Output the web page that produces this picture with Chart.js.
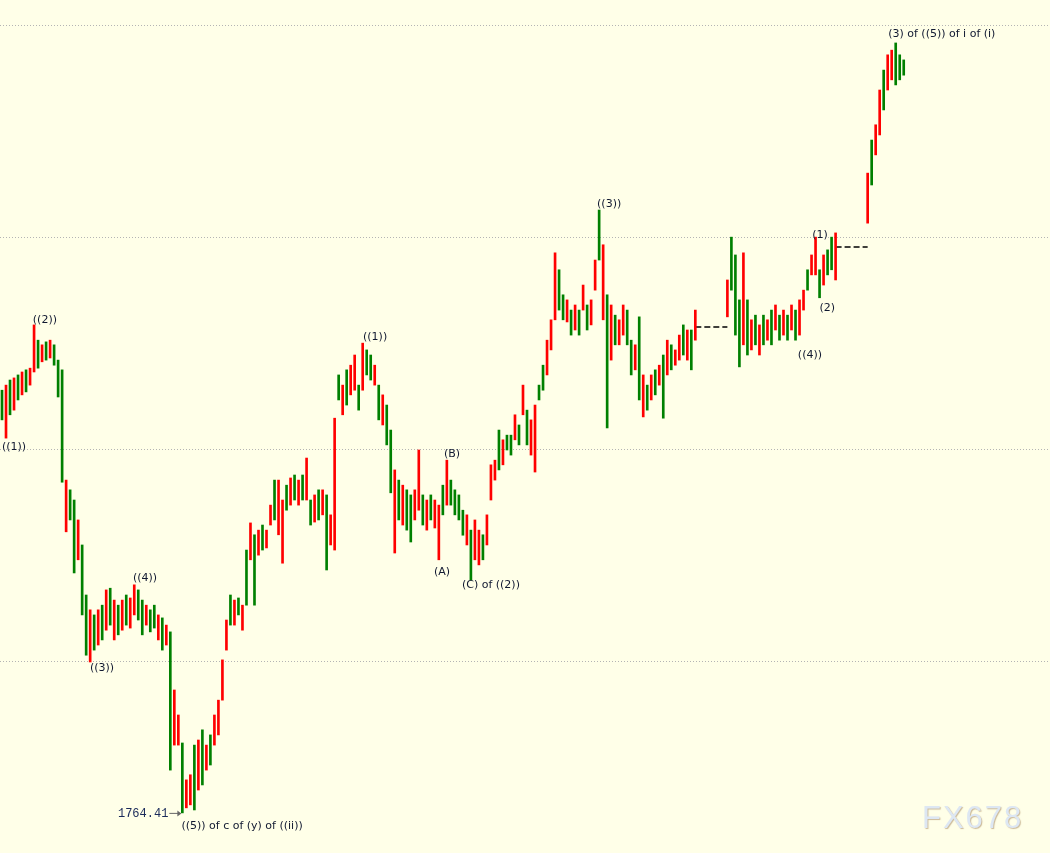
<!DOCTYPE html>
<html>
<head>
<meta charset="utf-8">
<title>Elliott wave count</title>
<script src="https://cdn.jsdelivr.net/npm/chart.js@4.4.1/dist/chart.umd.min.js"></script>
<style>
    html, body { margin: 0; padding: 0; background: #ffffe8; }
    #wrap { width: 1050px; height: 853px; }
</style>
</head>
<body>
<div id="wrap"><canvas id="waveChart"></canvas></div>
<script>
// ======================== Data ========================

// bar highs / lows, one entry per bar (null = no trading)
const highs = [
    1864.1,1865.3,1866.5,1867.0,1867.7,1868.4,1868.9,1869.3,1879.5,1875.9,
    1874.8,1875.5,1875.9,1874.8,1871.2,1868.9,1842.9,1840.6,1838.2,1833.5,
    1827.6,1815.8,1812.3,1811.1,1812.3,1813.4,1817.0,1817.4,1814.6,1813.4,
    1814.6,1815.8,1815.1,1818.2,1817.0,1814.6,1813.4,1812.3,1813.4,1811.1,
    1810.4,1808.7,1807.1,1793.4,1787.5,1780.9,1772.2,1773.4,1780.4,1781.6,
    1784.0,1780.4,1782.8,1787.5,1791.0,1800.5,1809.9,1815.8,1814.6,1815.1,
    1813.4,1826.4,1832.8,1830.0,1831.1,1832.3,1831.1,1837.0,1842.9,1842.9,
    1838.2,1841.7,1843.4,1844.1,1842.9,1844.1,1848.1,1838.2,1839.4,1840.6,
    1840.6,1839.4,1834.7,1857.5,1867.7,1865.3,1868.9,1870.0,1872.4,1865.3,
    1875.2,1873.6,1872.4,1870.0,1865.3,1863.0,1860.6,1854.7,1845.3,1842.9,
    1841.7,1840.6,1839.4,1840.6,1850.0,1839.4,1838.2,1839.4,1838.2,1837.0,
    1841.7,1847.6,1842.9,1840.6,1839.4,1835.8,1834.7,1831.1,1833.5,1831.1,
    1830.0,1834.7,1846.5,1847.6,1854.7,1852.4,1853.5,1853.5,1858.3,1855.9,
    1865.3,1859.4,1857.1,1860.6,1865.3,1870.0,1875.9,1880.7,1896.5,1892.5,
    1886.6,1885.4,1883.0,1884.2,1883.0,1888.9,1884.2,1885.4,1894.8,1906.6,
    1898.4,1886.6,1884.2,1881.8,1880.7,1884.2,1883.0,1875.9,1874.8,1881.4,
    1867.7,1865.3,1867.7,1868.9,1870.0,1872.4,1875.9,1874.8,1873.6,1877.1,
    1879.5,1878.3,1878.3,1883.0,null,null,null,null,null,null,
    null,1890.1,1900.2,1896.0,1885.4,1896.5,1885.4,1880.7,1881.8,1879.5,
    1881.8,1880.7,1883.0,1884.2,1881.8,1883.0,1881.8,1884.2,1883.0,1885.4,
    1887.7,1892.5,1896.0,1900.2,1892.5,1896.0,1897.2,1900.2,1901.2,null,
    null,null,null,null,null,null,1915.3,1923.1,1926.7,1934.9,
    1939.6,1943.2,1944.3,1946.0,1943.2,1942.0
];

const lows = [
    1857.1,1852.8,1858.3,1859.4,1861.8,1863.0,1863.7,1865.3,1868.4,1869.3,
    1870.8,1871.2,1871.7,1870.0,1862.5,1842.4,1830.7,1833.5,1821.0,1824.1,
    1811.1,1801.6,1800.0,1802.8,1804.0,1805.2,1807.5,1808.7,1805.2,1806.4,
    1807.5,1808.7,1808.0,1811.1,1809.9,1806.4,1808.7,1807.1,1808.0,1805.2,
    1802.8,1804.0,1774.5,1780.4,1780.4,1764.41,1765.6,1766.3,1765.1,1769.8,
    1771.0,1774.5,1775.7,1780.4,1782.8,1791.0,1802.8,1808.7,1808.7,1811.1,
    1807.5,1813.4,1824.1,1813.4,1825.2,1826.4,1826.9,1832.3,1833.5,1830.0,
    1823.3,1835.8,1837.0,1838.2,1837.0,1838.2,1838.2,1832.3,1833.0,1833.5,
    1834.7,1821.7,1827.6,1826.4,1861.8,1858.3,1860.6,1863.0,1864.1,1859.4,
    1864.1,1867.7,1866.5,1865.3,1857.1,1855.9,1851.2,1839.9,1825.7,1833.5,
    1832.3,1831.1,1828.3,1833.5,1835.8,1832.3,1831.1,1833.5,1831.6,1824.1,
    1834.7,1837.0,1837.0,1834.7,1833.5,1829.9,1827.6,1819.3,1824.1,1822.9,
    1824.1,1827.6,1838.2,1842.9,1845.3,1846.5,1850.0,1848.8,1852.4,1851.2,
    1858.3,1851.2,1848.8,1844.8,1861.8,1864.1,1867.7,1873.6,1880.7,1883.0,
    1880.7,1880.2,1877.1,1878.3,1877.1,1883.0,1878.3,1879.5,1887.7,1894.8,
    1880.7,1855.2,1871.2,1874.8,1874.8,1877.1,1874.8,1867.7,1868.9,1861.8,
    1857.8,1859.4,1861.8,1863.0,1865.3,1857.5,1867.7,1868.9,1870.0,1871.2,
    1872.4,1871.2,1868.9,1875.9,null,null,null,null,null,null,
    null,1881.4,1887.7,1877.1,1869.6,1874.8,1872.4,1873.6,1874.8,1872.4,
    1874.8,1875.9,1874.8,1878.3,1875.9,1877.1,1875.9,1878.3,1875.9,1877.1,
    1883.0,1887.7,1891.3,1891.3,1885.9,1888.9,1891.3,1892.5,1890.1,null,
    null,null,null,null,null,null,1903.5,1912.5,1919.6,1924.3,
    1930.2,1934.9,1937.3,1936.1,1937.3,1938.4
];

// G = green bar, R = red bar
const barDirs = [
    'GRGRGRGRRG', 'RGRGGGRGGR', 'GGRGRGRGRG', 'RGRRGGRGGR', 'GRGRRGRRGR',
    'GRGRRRRGRG', 'RGRGRGRRGR', 'RGRGRGRGRG', 'RGRRGRGRRG', 'RGGRGRGGRG',
    'RGGRRGRGRR', 'GRGGGGRGRR', 'GRRRGRGGRG', 'RGRRGGRRRG', 'GRGRGRGRRG',
    'RGRGRRGGRG', 'RGRGRGRGRR', 'GRGR------', '-RGGGRGRGR', 'GRGRGRGRGR',
    'RGRRGRGGR-', '------RGRR', 'GRRGGG'
].join('').split('');

const slotCount = 262;
const gridPrices = [1800, 1850, 1900, 1950];

// weekend gaps: dashed line at the last close
const gapStart = [173, 208];
const gapEnd = [181, 216];
const gapLevel = [1879.0, 1897.9];

// wave labels (bar slot, price at text centre)
const waveText = ['((1))', '((2))', '((3))', '((4))', '((5)) of c of (y) of ((ii))', '((1))', '(A)', '(B)',
    '(C) of ((2))', '((3))', '(1)', '(2)', '((4))', '(3) of ((5)) of i of (i)'];
const waveSlot = [3.0, 10.7, 24.95, 35.7, 59.9, 93.1, 109.8, 112.3, 122.0, 151.5, 204.1, 205.9, 201.6, 234.5];
const wavePrice = [1850.7, 1880.7, 1798.6, 1819.8, 1761.3, 1876.7, 1821.2, 1849.1, 1818.2, 1908.0, 1900.7, 1883.5, 1872.4, 1948.1];

// ======================== Chart ========================

const RED = '#ff0000';
const GREEN = '#008000';

function buildGapData(k) {
    const data = new Array(slotCount).fill(null);
    for (let i = gapStart[k]; i <= gapEnd[k]; i++) data[i] = gapLevel[k];
    return data;
}

const backgroundPlugin = {
    id: 'background',
    beforeDraw(chart) {
        const ctx = chart.ctx;
        ctx.save();
        ctx.fillStyle = '#ffffe8';
        ctx.fillRect(0, 0, chart.width, chart.height);
        ctx.restore();
    }
};

const labelPlugin = {
    id: 'waveLabels',
    afterDatasetsDraw(chart) {
        const ctx = chart.ctx;
        const x = chart.scales.x;
        const y = chart.scales.y;
        ctx.save();

        // wave labels
        ctx.font = '11px "DejaVu Sans", Verdana, sans-serif';
        ctx.fillStyle = '#101830';
        ctx.textAlign = 'center';
        ctx.textBaseline = 'middle';
        waveText.forEach((t, i) => {
            ctx.fillText(t, x.getPixelForValue(waveSlot[i]), y.getPixelForValue(wavePrice[i]));
        });

        // low price marker
        const lowValue = Math.min(...lows.filter(v => v !== null));
        const lowIdx = lows.indexOf(lowValue);
        const lx = x.getPixelForValue(lowIdx) - 1;
        const ly = y.getPixelForValue(lowValue);
        ctx.strokeStyle = '#666666';
        ctx.fillStyle = '#666666';
        ctx.lineWidth = 1;
        ctx.beginPath();
        ctx.moveTo(lx - 12, ly + 0.5);
        ctx.lineTo(lx - 2, ly + 0.5);
        ctx.stroke();
        ctx.beginPath();
        ctx.moveTo(lx, ly + 0.5);
        ctx.lineTo(lx - 4, ly - 2.5);
        ctx.lineTo(lx - 4, ly + 3.5);
        ctx.closePath();
        ctx.fill();
        ctx.font = '12px "Liberation Mono", monospace';
        ctx.fillStyle = '#1a2a5a';
        ctx.textAlign = 'right';
        ctx.fillText(lowValue.toFixed(2), lx - 13, ly + 1);

        // watermark
        ctx.font = '31px "Liberation Sans", Arial, sans-serif';
        ctx.letterSpacing = '2px';
        ctx.textAlign = 'left';
        ctx.textBaseline = 'alphabetic';
        ctx.shadowColor = 'rgba(170, 140, 100, 0.6)';
        ctx.shadowOffsetX = 1;
        ctx.shadowOffsetY = 1;
        ctx.shadowBlur = 1;
        ctx.fillStyle = '#dde7f3';
        ctx.fillText('FX678', 922, 828);
        ctx.restore();
    }
};

const ctx = document.getElementById('waveChart').getContext('2d');

new Chart(ctx, {
    type: 'bar',
    data: {
        labels: Array.from({ length: slotCount }, (_, i) => i),
        datasets: [
            {
                type: 'bar',
                data: highs.map((h, i) => (h === null ? null : [lows[i], h])),
                backgroundColor: barDirs.map(d => (d === 'R' ? RED : GREEN)),
                borderWidth: 0,
                barThickness: 2,
                grouped: false
            },
            {
                type: 'line',
                data: buildGapData(0),
                borderColor: '#000000',
                borderWidth: 1.5,
                borderDash: [6, 3],
                pointRadius: 0,
                spanGaps: false
            },
            {
                type: 'line',
                data: buildGapData(1),
                borderColor: '#000000',
                borderWidth: 1.5,
                borderDash: [6, 3],
                pointRadius: 0,
                spanGaps: false
            }
        ]
    },
    options: {
        responsive: true,
        maintainAspectRatio: false,
        animation: false,
        devicePixelRatio: 1,
        layout: { padding: 0 },
        scales: {
            x: {
                display: false,
                offset: true
            },
            y: {
                min: 1754.95,
                max: 1956.13,
                afterBuildTicks: scale => {
                    scale.ticks = gridPrices.map(v => ({ value: v }));
                },
                ticks: { display: false },
                grid: { color: '#b4b4b4', lineWidth: 1, drawTicks: false },
                border: { display: false, dash: [1, 2] }
            }
        },
        plugins: {
            legend: { display: false },
            tooltip: { enabled: false }
        }
    },
    plugins: [backgroundPlugin, labelPlugin]
});
</script>
</body>
</html>
